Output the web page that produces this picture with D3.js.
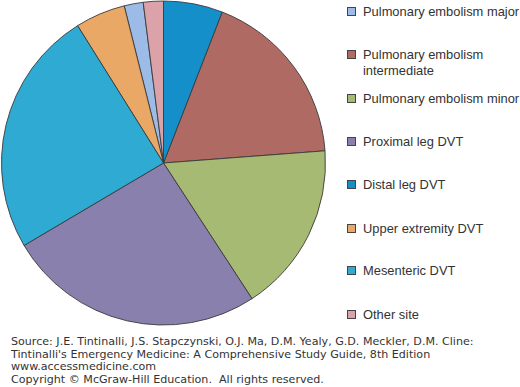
<!DOCTYPE html>
<html>
<head>
<meta charset="utf-8">
<script src="https://cdn.jsdelivr.net/npm/d3@7"></script>
<style>
  body { margin: 0; background: #fff; }
  svg { display: block; }
</style>
</head>
<body>
<svg id="chart" width="520" height="387"></svg>
<script>
// legend order
const categories = [
  "Pulmonary embolism major",
  "Pulmonary embolism intermediate",
  "Pulmonary embolism minor",
  "Proximal leg DVT",
  "Distal leg DVT",
  "Upper extremity DVT",
  "Mesenteric DVT",
  "Other site"
];
const legendLines = [
  ["Pulmonary embolism major"],
  ["Pulmonary embolism", "intermediate"],
  ["Pulmonary embolism minor"],
  ["Proximal leg DVT"],
  ["Distal leg DVT"],
  ["Upper extremity DVT"],
  ["Mesenteric DVT"],
  ["Other site"]
];
const values = [1.9, 17.9, 17.0, 25.7, 5.9, 5.0, 24.6, 2.0];
const colors = ["#9cbbe6", "#b06a64", "#a7ba74", "#8a80ae", "#148fca", "#e9a865", "#2eaad3", "#dba2aa"];
// clockwise order of slices from 12 o'clock
const sliceOrder = [4, 1, 2, 3, 6, 5, 0, 7];
const sourceLines = [
  "Source: J.E. Tintinalli, J.S. Stapczynski, O.J. Ma, D.M. Yealy, G.D. Meckler, D.M. Cline:",
  "Tintinalli's Emergency Medicine: A Comprehensive Study Guide, 8th Edition",
  "www.accessmedicine.com",
  "Copyright \u00a9 McGraw-Hill Education.  All rights reserved."
];

const svg = d3.select("#chart");
const cx = 163.5, cy = 163, radius = 162;

const data = categories.map((name, i) => ({ name, value: values[i], color: colors[i], rank: sliceOrder.indexOf(i) }));

const pie = d3.pie()
  .value((d) => d.value)
  .sort((a, b) => a.rank - b.rank);
const arc = d3.arc().innerRadius(0).outerRadius(radius);

svg.append("g")
  .attr("transform", `translate(${cx},${cy})`)
  .selectAll("path")
  .data(pie(data))
  .join("path")
  .attr("d", arc)
  .attr("fill", (d) => d.data.color)
  .attr("stroke", "#3a3a3a")
  .attr("stroke-width", 0.9)
  .attr("stroke-linejoin", "round");

// legend, baselines
const legendY = [16, 59, 103, 146, 189, 233, 275, 319];
const legend = svg.append("g")
  .attr("font-family", "Arial, 'Liberation Sans', Helvetica, sans-serif")
  .attr("font-size", 12.9)
  .attr("fill", "#333");

data.forEach((d, i) => {
  const y = legendY[i];
  legend.append("rect")
    .attr("x", 347.5)
    .attr("y", y - 8.5)
    .attr("width", 8)
    .attr("height", 8)
    .attr("fill", d.color)
    .attr("stroke", "#444")
    .attr("stroke-width", 1);
  legendLines[i].forEach((line, j) => {
    legend.append("text")
      .attr("x", 363)
      .attr("y", y + j * 16)
      .text(line);
  });
});

svg.append("g")
  .attr("font-family", "'DejaVu Sans', sans-serif")
  .attr("font-size", 11.1)
  .attr("fill", "#333")
  .selectAll("text")
  .data(sourceLines)
  .join("text")
  .attr("x", 11)
  .attr("y", (d, i) => 345 + i * 12.7)
  .attr("xml:space", "preserve")
  .text((d) => d);
</script>
</body>
</html>
